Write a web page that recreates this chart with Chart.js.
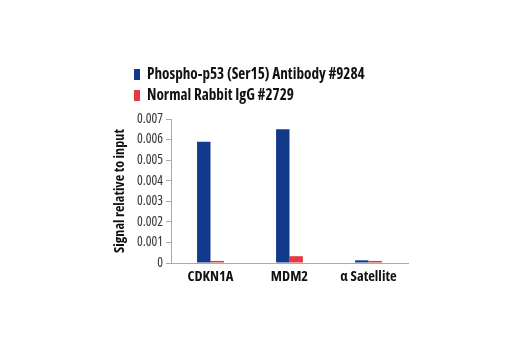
<!DOCTYPE html>
<html><head><meta charset="utf-8">
<script src="https://cdn.jsdelivr.net/npm/chart.js@4"></script>
<style>
html,body{margin:0;padding:0;background:#fff;}
#wrap{position:relative;width:520px;height:350px;}
#legend{position:absolute;left:134px;top:63px;font-family:"Open Sans",sans-serif;font-stretch:condensed;font-weight:bold;font-size:15.2px;color:#111;line-height:21px;white-space:nowrap;}
#legend span.sw{display:inline-block;width:6px;height:11px;margin-right:7px;vertical-align:-1px;}
</style></head>
<body><div id="wrap"><canvas id="c" width="520" height="350"></canvas>
<div id="legend"></div></div>
<script>
const categories = ["CDKN1A", "MDM2", "α Satellite"];
const seriesNames = ["Phospho-p53 (Ser15) Antibody #9284", "Normal Rabbit IgG #2729"];
const phosphoValues = [0.0059, 0.0065, 0.00013];
const iggValues = [0.0001, 0.00033, 0.0001];
const yTicks = [0, 0.001, 0.002, 0.003, 0.004, 0.005, 0.006, 0.007];
const colors = ["#133a8a", "#e23a40"];

const lg = document.getElementById('legend');
seriesNames.forEach((n,i)=>{
  const d=document.createElement('div');
  d.innerHTML='<span class="sw" style="background:'+colors[i]+'"></span>'+n;
  lg.appendChild(d);
});
const FAM = '"Open Sans",sans-serif';
new Chart(document.getElementById('c'), {
  type: 'bar',
  data: {
    labels: categories,
    datasets: [
      {label: seriesNames[0], data: phosphoValues, backgroundColor: colors[0], categoryPercentage: 0.34, barPercentage: 1},
      {label: seriesNames[1], data: iggValues, backgroundColor: colors[1], categoryPercentage: 0.34, barPercentage: 1}
    ]
  },
  options: {
    responsive: false,
    animation: false,
    layout: {padding: {left: 111, right: 112, top: 119, bottom: 40}},
    plugins: {legend: {display: false}, tooltip: {enabled: false}},
    scales: {
      x: {
        grid: {display: false},
        border: {display: true, color: '#aaa', width: 1},
        ticks: {color: '#111', maxRotation: 0, autoSkip: false, font: {family: FAM, weight: 'bold condensed', size: 14.5}, padding: -3},
        afterFit: s => { s.height = 47; }
      },
      y: {
        min: 0, max: 0.007,
        afterBuildTicks: s => { s.ticks = yTicks.map(v => ({value: v})); },
        grid: {display: true, drawOnChartArea: false, drawTicks: true, tickLength: 5, color: '#aaa'},
        border: {display: true, color: '#aaa', width: 1},
        ticks: {color: '#333', font: {family: FAM, weight: 'normal condensed', size: 13.5}, padding: 3,
          callback: v => v === 0 ? '0' : v.toFixed(3)},
        title: {display: true, text: 'Signal relative to input', color: '#111', padding: {top: 0, bottom: 2},
          font: {family: FAM, weight: 'bold condensed', size: 14.2}},
        afterFit: s => { s.width = 60; }
      }
    }
  }
});
</script></body></html>
